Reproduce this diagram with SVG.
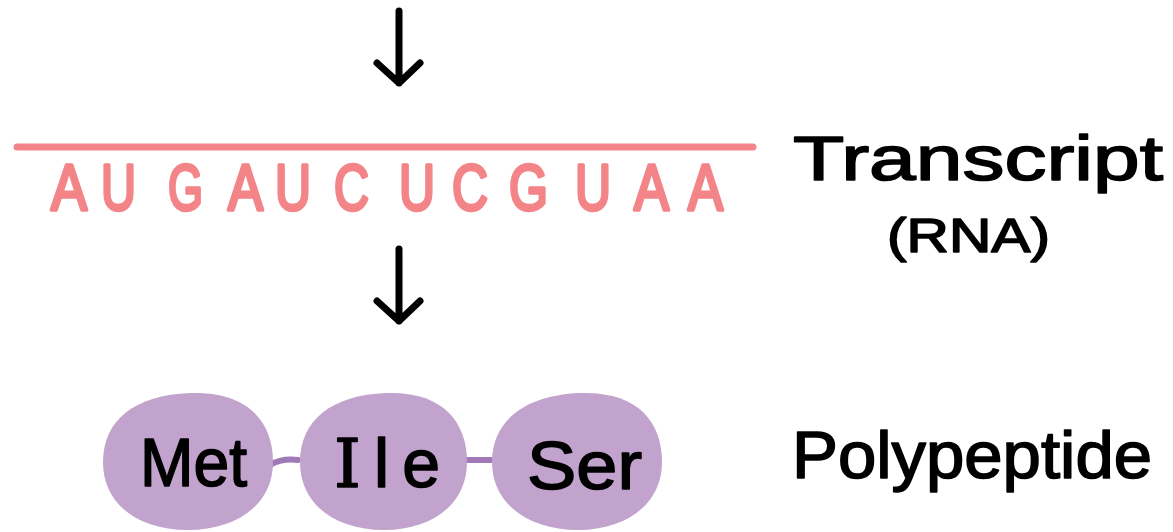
<svg xmlns="http://www.w3.org/2000/svg" width="1173" height="532" viewBox="0 0 1173 532">
  <style>
    .arrow { fill: none; stroke: #000; stroke-width: 7; stroke-linecap: round; stroke-linejoin: round; }
    .rna { font-family: "Liberation Sans", Arial, sans-serif; font-size: 64px; fill: #F38487; stroke: #F38487; stroke-width: 3.5; stroke-linejoin: round; }
    .lbl { font-family: "Liberation Sans", Arial, sans-serif; fill: #000; stroke: #000; stroke-width: 1.6; stroke-linejoin: round; }
    .serif { font-family: "DejaVu Serif", "Liberation Serif", serif; }
    .blob { fill: #C2A3CD; }
    .link { fill: none; stroke: #9F7AB6; stroke-width: 6; stroke-linecap: round; }
  </style>
  <rect width="1173" height="532" fill="#fff"/>

  <g id="connectors">
    <path class="arrow" d="M399 11 V83 M377 63 L399 83 L420 63"/>
    <path class="arrow" d="M399 249 V321 M377 301 L399 321 L420 301"/>
    <path class="link" d="M270 465 Q282 458 298 460"/>
    <path class="link" d="M466 460 L491 460"/>
  </g>

  <g id="transcript">
    <line x1="17" y1="147" x2="753" y2="147" stroke="#F38487" stroke-width="7" stroke-linecap="round"/>
    <text class="rna" x="51" y="210" textLength="36" lengthAdjust="spacingAndGlyphs">A</text>
    <text class="rna" x="101" y="210" textLength="35" lengthAdjust="spacingAndGlyphs">U</text>
    <text class="rna" x="168" y="210" textLength="35" lengthAdjust="spacingAndGlyphs">G</text>
    <text class="rna" x="228" y="210" textLength="35" lengthAdjust="spacingAndGlyphs">A</text>
    <text class="rna" x="275" y="210" textLength="36" lengthAdjust="spacingAndGlyphs">U</text>
    <text class="rna" x="334" y="210" textLength="35" lengthAdjust="spacingAndGlyphs">C</text>
    <text class="rna" x="399" y="210" textLength="36" lengthAdjust="spacingAndGlyphs">U</text>
    <text class="rna" x="452" y="210" textLength="36" lengthAdjust="spacingAndGlyphs">C</text>
    <text class="rna" x="509" y="210" textLength="39" lengthAdjust="spacingAndGlyphs">G</text>
    <text class="rna" x="575" y="210" textLength="36" lengthAdjust="spacingAndGlyphs">U</text>
    <text class="rna" x="634" y="210" textLength="35" lengthAdjust="spacingAndGlyphs">A</text>
    <text class="rna" x="688" y="210" textLength="35" lengthAdjust="spacingAndGlyphs">A</text>
    <text class="lbl" x="793" y="180" font-size="63" textLength="370" lengthAdjust="spacingAndGlyphs">Transcript</text>
    <text class="lbl" x="887" y="252" font-size="49" textLength="163" lengthAdjust="spacingAndGlyphs">(RNA)</text>
  </g>

  <g id="met">
    <path class="blob" d="M190 393 C248 391 273 422 273 462 C273 505 236 530 188 530 C139 530 103 505 103 462 C103 420 135 395 190 393 Z"/>
    <text class="lbl" x="140" y="486" font-size="68" textLength="107" lengthAdjust="spacingAndGlyphs">Met</text>
  </g>

  <g id="ile">
    <path class="blob" d="M386 393 C443 391 467 422 467 462 C467 505 431 530 384 530 C336 530 300 505 300 462 C300 420 332 395 386 393 Z"/>
    <text class="lbl" x="334" y="487" font-size="68" textLength="106" lengthAdjust="spacing"><tspan class="serif">I</tspan>le</text>
  </g>

  <g id="ser">
    <path class="blob" d="M580 393 C638 391 662 422 662 462 C662 505 625 530 578 530 C530 530 492 505 492 462 C492 420 526 395 580 393 Z"/>
    <text class="lbl" x="527" y="489" font-size="68" textLength="115" lengthAdjust="spacingAndGlyphs">Ser</text>
  </g>

  <g id="polypeptide">
    <text class="lbl" x="792" y="478" font-size="66" textLength="360" lengthAdjust="spacingAndGlyphs">Polypeptide</text>
  </g>
</svg>
